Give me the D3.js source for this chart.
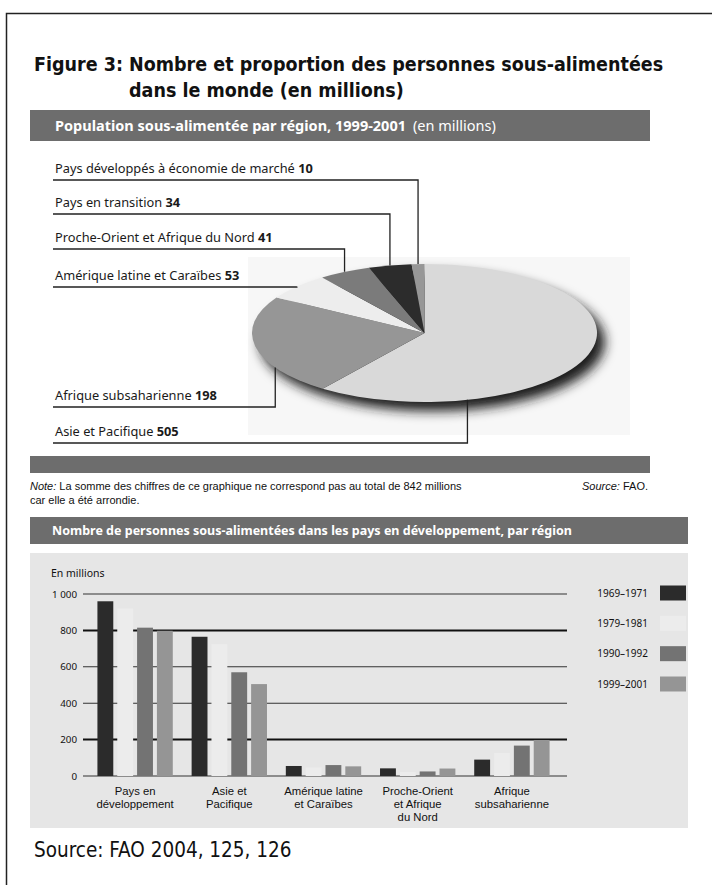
<!DOCTYPE html>
<html>
<head>
<meta charset="utf-8">
<script src="https://cdn.jsdelivr.net/npm/d3@7"></script>
<style>
  html, body { margin: 0; padding: 0; background: #fff; }
  svg { display: block; }
</style>
</head>
<body>
<svg id="chart" width="712" height="885"></svg>
<script>
// ---------- DATA ----------
const pieRegions = ["Asie et Pacifique", "Afrique subsaharienne", "Amérique latine et Caraïbes",
                    "Proche-Orient et Afrique du Nord", "Pays en transition", "Pays développés à économie de marché"];
const pieValues = [505, 198, 53, 41, 34, 10];

const barCategories = ["Pays en|développement", "Asie et|Pacifique", "Amérique latine|et Caraïbes",
                       "Proche-Orient|et Afrique|du Nord", "Afrique|subsaharienne"];
const periods = ["1969–1971", "1979–1981", "1990–1992", "1999–2001"];
const v1969_1971 = [960, 765, 55, 42, 90];
const v1979_1981 = [920, 725, 47, 22, 127];
const v1990_1992 = [815, 570, 60, 25, 167];
const v1999_2001 = [798, 505, 53, 41, 198];
const yTicks = [0, 200, 400, 600, 800, 1000];
const yTickLabels = ["0", "200", "400", "600", "800", "1 000"];

// ---------- STYLE / LAYOUT ----------
const pieColors = ["#d9d9d9", "#969696", "#ededed", "#7b7b7b", "#2c2c2c", "#979797"];
const pieLabelLineY = [443, 407, 287, 249, 214, 180];
const pieAnchorFrac = [0.766, 0.28, 0.5, 0.5, 0.5, 0.5];
const barColors = ["#2b2b2b", "#ececec", "#737373", "#959595"];
const headerGray = "#6d6d6d";
const condensed = "'DejaVu Sans Condensed', 'Liberation Sans Narrow', sans-serif";
const sans = "'Noto Sans', 'Open Sans', sans-serif";
const compact = "'Liberation Sans', Arial, sans-serif";

const svg = d3.select("#chart");

// Outer frame
svg.append("path")
  .attr("d", "M712,13.5 H6.5 V885")
  .attr("fill", "none").attr("stroke", "#222").attr("stroke-width", 1.5);

// Title
const title = svg.append("g").attr("font-family", condensed).attr("font-weight", "bold")
  .attr("font-size", 19.5).attr("fill", "#111");
title.append("text").attr("x", 34).attr("y", 71).text("Figure 3:");
title.append("text").attr("x", 129).attr("y", 71).text("Nombre et proportion des personnes sous-alimentées");
title.append("text").attr("x", 129).attr("y", 97).text("dans le monde (en millions)");

// Header bar 1
svg.append("rect").attr("x", 30).attr("y", 110).attr("width", 620).attr("height", 31).attr("fill", headerGray);
const h1 = svg.append("text").attr("x", 55).attr("y", 131).attr("font-family", sans)
  .attr("font-size", 14.5).attr("fill", "#fff");
h1.append("tspan").attr("font-weight", "bold").text("Population sous-alimentée par région, 1999-2001");
h1.append("tspan").attr("dx", 7).text("(en millions)");

// ---------- PIE ----------
const cx = 424.5, cy = 333, rx = 172.5, ry = 69;
const defs = svg.append("defs");
const f = defs.append("filter").attr("id", "shadow").attr("x", "-20%").attr("y", "-40%")
  .attr("width", "140%").attr("height", "180%");
f.append("feGaussianBlur").attr("stdDeviation", 6);

svg.append("rect").attr("x", 248).attr("y", 257).attr("width", 382).attr("height", 178).attr("fill", "#f7f7f7");
svg.append("ellipse").attr("cx", cx + 8).attr("cy", cy + 9).attr("rx", rx).attr("ry", ry)
  .attr("fill", "#1a1a1a").attr("filter", "url(#shadow)");

const pie = d3.pie().sortValues(d3.descending);
const arcs = pie(pieValues);
const arc = d3.arc().innerRadius(0).outerRadius(rx);
svg.append("g").attr("transform", `translate(${cx},${cy}) scale(1,${ry / rx})`)
  .selectAll("path").data(arcs).join("path")
  .attr("d", arc).attr("fill", (d, i) => pieColors[i]);

// Labels and leader lines
const labels = svg.append("g");
arcs.forEach((a, i) => {
  const ang = a.startAngle + pieAnchorFrac[i] * (a.endAngle - a.startAngle);
  const ax = cx + rx * Math.sin(ang);
  const ay = cy - ry * Math.cos(ang);
  const ly = pieLabelLineY[i];
  labels.append("path")
    .attr("d", `M53,${ly} H${ax} V${ay}`)
    .attr("fill", "none").attr("stroke", "#222").attr("stroke-width", 1.3);
  const t = labels.append("text").attr("x", 55).attr("y", ly - 7)
    .attr("font-family", sans).attr("font-size", 12.8).attr("fill", "#1a1a1a");
  t.append("tspan").text(pieRegions[i] + " ");
  t.append("tspan").attr("font-weight", "bold").text(pieValues[i]);
});

// Header bar 2 and note
svg.append("rect").attr("x", 30).attr("y", 456).attr("width", 620).attr("height", 17).attr("fill", headerGray);
const note = svg.append("g").attr("font-family", compact).attr("font-size", 11).attr("fill", "#111");
const n1 = note.append("text").attr("x", 30).attr("y", 490);
n1.append("tspan").attr("font-style", "italic").text("Note:");
n1.append("tspan").text(" La somme des chiffres de ce graphique ne correspond pas au total de 842 millions");
note.append("text").attr("x", 30).attr("y", 504).text("car elle a été arrondie.");
const s1 = note.append("text").attr("x", 648).attr("y", 490).attr("text-anchor", "end");
s1.append("tspan").attr("font-style", "italic").text("Source:");
s1.append("tspan").text(" FAO.");

// Header bar 3
svg.append("rect").attr("x", 30).attr("y", 517).attr("width", 658).attr("height", 27).attr("fill", headerGray);
svg.append("text").attr("x", 52).attr("y", 535).attr("font-family", sans).attr("font-size", 12.5)
  .attr("font-weight", "bold").attr("fill", "#fff")
  .text("Nombre de personnes sous-alimentées dans les pays en développement, par région");

// ---------- BAR CHART ----------
svg.append("rect").attr("x", 30).attr("y", 553).attr("width", 658).attr("height", 275).attr("fill", "#e6e6e6");

const x0 = d3.scaleBand().domain(barCategories).range([88, 559]).paddingInner(0.2).paddingOuter(0.1);
const x1 = d3.scaleBand().domain(periods).range([0, x0.bandwidth()]).paddingInner(0.2).paddingOuter(0);
const y = d3.scaleLinear().domain([0, 1000]).range([776, 594]);
const series = [v1969_1971, v1979_1981, v1990_1992, v1999_2001];

// gridlines
const grid = svg.append("g");
yTicks.forEach(t => {
  const heavy = (t === 200 || t === 800);
  grid.append("line").attr("x1", 83).attr("x2", 567).attr("y1", y(t)).attr("y2", y(t))
    .attr("stroke", heavy ? "#111" : "#333").attr("stroke-width", heavy ? 2 : 1.1);
});

// y axis labels via d3.axisLeft (domain/ticks hidden)
const yAxis = svg.append("g").attr("transform", "translate(80,0)")
  .call(d3.axisLeft(y).tickValues(yTicks).tickSize(0).tickPadding(3)
    .tickFormat((d, i) => yTickLabels[i]));
yAxis.select(".domain").remove();
yAxis.selectAll("text").attr("font-family", sans).attr("font-size", 9.8).attr("fill", "#111");

svg.append("text").attr("x", 51).attr("y", 577).attr("font-family", sans).attr("font-size", 10.5)
  .attr("fill", "#111").text("En millions");

// bars
const groups = svg.append("g").selectAll("g").data(barCategories).join("g")
  .attr("transform", d => `translate(${x0(d)},0)`);
groups.selectAll("rect")
  .data((d, ci) => periods.map((p, si) => ({ p, si, v: series[si][ci] })))
  .join("rect")
  .attr("x", d => x1(d.p)).attr("width", x1.bandwidth())
  .attr("y", d => y(d.v)).attr("height", d => y(0) - y(d.v))
  .attr("fill", d => barColors[d.si]);

// category labels (one text per line)
const catG = svg.append("g").attr("font-family", compact).attr("font-size", 11.3).attr("fill", "#111")
  .attr("text-anchor", "middle");
barCategories.forEach(c => {
  c.split("|").forEach((line, k) => {
    catG.append("text").attr("x", x0(c) + x0.bandwidth() / 2).attr("y", 795 + k * 13.2).text(line);
  });
});

// legend
const legY = d3.scalePoint().domain(periods).range([593, 684]);
const leg = svg.append("g");
periods.forEach((p, i) => {
  leg.append("text").attr("x", 648).attr("y", legY(p) + 3.5).attr("text-anchor", "end")
    .attr("font-family", sans).attr("font-size", 10).attr("fill", "#111").text(p);
  leg.append("rect").attr("x", 660).attr("y", legY(p) - 7.5).attr("width", 26).attr("height", 15)
    .attr("fill", barColors[i]);
});

// Source
svg.append("text").attr("x", 34).attr("y", 857).attr("font-family", condensed)
  .attr("font-size", 20.5).attr("fill", "#111").text("Source: FAO 2004, 125, 126");
</script>
</body>
</html>
